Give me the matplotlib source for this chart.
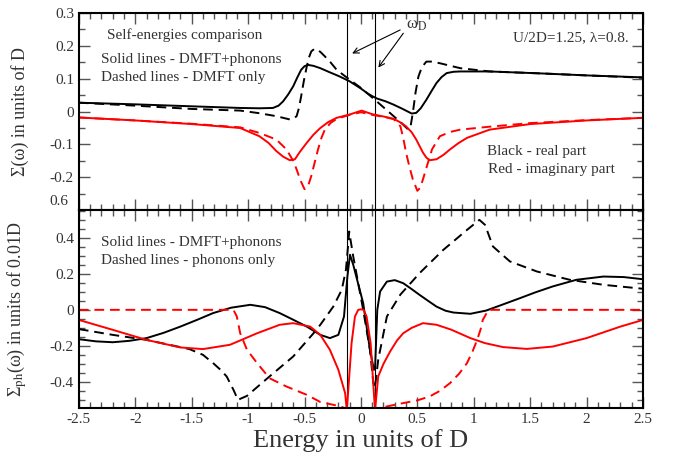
import numpy as np
import matplotlib
matplotlib.use("Agg")
import matplotlib.pyplot as plt
from matplotlib.ticker import MultipleLocator, FixedLocator, FixedFormatter

plt.rcParams['font.family'] = ['Liberation Serif', 'DejaVu Serif']
plt.rcParams['mathtext.fontset'] = 'stix'

# ---- top panel: self-energies in units of D ----
re_full_x = [-2.5, -2.0, -1.5, -1.07, -0.9, -0.78, -0.73, -0.69, -0.645, -0.6, -0.565, -0.53,
             -0.5, -0.47, -0.42, -0.36, -0.28, -0.19, -0.1, 0.0, 0.06, 0.1, 0.14, 0.22, 0.29,
             0.37, 0.45, 0.49, 0.53, 0.58, 0.625, 0.67, 0.715, 0.76, 0.82, 0.88, 1.14, 1.6,
             2.0, 2.5]
re_full_y = [0.027, 0.022, 0.016, 0.011, 0.010, 0.011, 0.018, 0.031, 0.052, 0.077, 0.103, 0.127,
             0.138, 0.142, 0.139, 0.132, 0.12, 0.107, 0.092, 0.07, 0.055, 0.047, 0.04, 0.031, 0.021,
             0.008, -0.006, -0.004, 0.01, 0.036, 0.062, 0.087, 0.105, 0.117, 0.121, 0.122, 0.122, 0.116,
             0.11, 0.104]

re_dmft_x = [-2.5, -2.0, -1.5, -1.07, -0.9, -0.75, -0.63, -0.6, -0.57, -0.55, -0.53, -0.505,
             -0.48, -0.46, -0.44, -0.415, -0.39, -0.355, -0.32, -0.27, -0.215, -0.1, 0.0, 0.14,
             0.29, 0.36, 0.42, 0.44, 0.46, 0.485, 0.51, 0.54, 0.58, 0.63, 0.70, 0.88, 1.14,
             1.6, 2.0, 2.5]
re_dmft_y = [0.027, 0.018, 0.008, 0.003, -0.005, -0.014, -0.024, -0.022, -0.014, 0.01, 0.046, 0.095,
             0.137, 0.165, 0.183, 0.19, 0.19, 0.18, 0.168, 0.15, 0.127, 0.097, 0.072, 0.031,
             -0.014, -0.035, -0.055, -0.045, -0.004, 0.06, 0.107, 0.135, 0.152, 0.152, 0.147, 0.132, 0.122,
             0.116, 0.11, 0.103]

im_full_x = [-2.5, -2.0, -1.5, -1.07, -0.9, -0.82, -0.75, -0.69, -0.63, -0.585, -0.54, -0.48,
             -0.42, -0.36, -0.29, -0.215, -0.1, 0.006, 0.1, 0.2, 0.29, 0.35, 0.40, 0.45, 0.49,
             0.52, 0.55, 0.58, 0.61, 0.67, 0.73, 0.79, 0.86, 0.94, 1.14, 1.5, 2.0, 2.5]
im_full_y = [-0.018, -0.027, -0.038, -0.05, -0.075, -0.095, -0.12, -0.137, -0.148, -0.145, -0.122, -0.095,
             -0.07, -0.05, -0.032, -0.019, -0.009, 0.003, -0.008, -0.015, -0.022, -0.033, -0.045, -0.063, -0.085,
             -0.105, -0.125, -0.14, -0.148, -0.145, -0.132, -0.115, -0.097, -0.08, -0.055, -0.038, -0.027, -0.019]

im_dmft_x = [-2.5, -2.0, -1.5, -1.07, -0.9, -0.75, -0.66, -0.6, -0.57, -0.535, -0.5, -0.47,
             -0.44, -0.41, -0.38, -0.35, -0.32, -0.27, -0.215, -0.1, 0.0, 0.1, 0.2, 0.29, 0.35,
             0.375, 0.40, 0.43, 0.46, 0.5, 0.525, 0.55, 0.59, 0.63, 0.70, 0.79, 0.88, 1.14,
             1.5, 2.0, 2.5]
im_dmft_y = [-0.018, -0.027, -0.037, -0.048, -0.065, -0.085, -0.115, -0.15, -0.176, -0.21, -0.236, -0.228,
             -0.196, -0.155, -0.115, -0.08, -0.055, -0.035, -0.022, -0.01, -0.002, -0.01, -0.016, -0.023, -0.045,
             -0.08, -0.125, -0.168, -0.206, -0.241, -0.232, -0.206, -0.16, -0.115, -0.075, -0.062, -0.055, -0.046,
             -0.035, -0.026, -0.019]

# ---- bottom panel: phonon self-energies in units of 0.01D ----
re_fph_x = [-2.5, -2.35, -2.2, -2.05, -1.9, -1.75, -1.6, -1.45, -1.31, -1.15, -0.98, -0.85,
            -0.72, -0.6, -0.48, -0.36, -0.275, -0.2, -0.15, -0.12, -0.097, -0.068, 0.02, 0.08,
            0.115, 0.125, 0.145, 0.17, 0.23, 0.30, 0.375, 0.45, 0.52, 0.6, 0.67, 0.75, 0.82,
            0.97, 1.11, 1.25, 1.41, 1.55, 1.70, 1.91, 2.15, 2.33, 2.5]
re_fph_y = [-0.163, -0.175, -0.18, -0.172, -0.157, -0.128, -0.093, -0.055, -0.018, 0.012, 0.028, 0.015,
            -0.018, -0.055, -0.093, -0.139, -0.157, -0.139, -0.037, 0.185, 0.306, 0.25, 0.037, -0.222,
            -0.333, -0.33, 0.0, 0.102, 0.157, 0.165, 0.148, 0.115, 0.083, 0.048, 0.018, -0.005, -0.015,
            -0.022, -0.004, 0.028, 0.065, 0.098, 0.13, 0.167, 0.185, 0.182, 0.17]

re_ph_x = [-2.5, -2.2, -1.9, -1.52, -1.4, -1.31, -1.25, -1.19, -1.13, -1.09, -1.01, -0.81,
           -0.6, -0.42, -0.36, -0.245, -0.17, -0.133, -0.112, -0.104, -0.068, 0.02, 0.08, 0.11,
           0.124, 0.153, 0.23, 0.35, 0.52, 0.73, 0.94, 1.05, 1.10, 1.17, 1.32, 1.56, 1.85,
           2.15, 2.5]
re_ph_y = [-0.107, -0.139, -0.167, -0.218, -0.25, -0.296, -0.33, -0.37, -0.444, -0.5, -0.478, -0.37,
           -0.259, -0.13, -0.083, 0.018, 0.111, 0.222, 0.37, 0.435, 0.296, 0.0, -0.222, -0.407,
           -0.435, -0.278, -0.037, 0.085, 0.204, 0.333, 0.444, 0.5, 0.472, 0.352, 0.269, 0.213, 0.167,
           0.139, 0.117]

im_fph_x = [-2.5, -2.2, -1.9, -1.6, -1.4, -1.16, -0.92, -0.72, -0.6, -0.45, -0.36, -0.275,
            -0.2, -0.14, -0.125, -0.083, -0.053, -0.024, 0.0, 0.024, 0.05, 0.086, 0.125, 0.153,
            0.2, 0.26, 0.32, 0.375, 0.45, 0.55, 0.67, 0.8, 0.97, 1.1, 1.26, 1.47, 1.70, 2.0,
            2.3, 2.5]
im_fph_y = [-0.056, -0.111, -0.167, -0.209, -0.218, -0.194, -0.13, -0.083, -0.074, -0.093, -0.139, -0.222,
            -0.333, -0.463, -0.56, -0.185, -0.037, 0.0, 0.003, 0.0, -0.037, -0.185, -0.56, -0.37,
            -0.3, -0.23, -0.17, -0.13, -0.1, -0.074, -0.083, -0.11, -0.157, -0.185, -0.207, -0.217, -0.204, -0.157,
            -0.093, -0.056]

im_ph_x = [-2.5, -1.13, -1.10, -1.07, -1.01, -0.92, -0.81, -0.66, -0.48, -0.36, -0.19, -0.125,
           0.0, 0.125, 0.375, 0.5, 0.61, 0.7, 0.79, 0.87, 0.94, 0.99, 1.03, 1.06, 1.08,
           1.13, 2.5]
im_ph_y = [0, 0, -0.037, -0.13, -0.222, -0.296, -0.38, -0.426, -0.472, -0.512, -0.535, -0.55,
           -0.58, -0.55, -0.518, -0.503, -0.481, -0.45, -0.407, -0.355, -0.296, -0.23, -0.167, -0.11, -0.056,
           0, 0]

omega_d = 0.125

x_ticks = [-2.5, -2, -1.5, -1, -0.5, 0, 0.5, 1, 1.5, 2, 2.5]
x_labels = ['-2.5', '-2', '-1.5', '-1', '-0.5', '0', '0.5', '1', '1.5', '2', '2.5']
top_yticks = [-0.2, -0.1, 0, 0.1, 0.2, 0.3]
top_ylabels = ['-0.2', '-0.1', '0', '0.1', '0.2', '0.3']
bot_yticks = [-0.4, -0.2, 0, 0.2, 0.4]
bot_ylabels = ['-0.4', '-0.2', '0', '0.2', '0.4']

txt = '#333333'
dash = (0, (5, 3))
lw = 1.4

fig = plt.figure(figsize=(6.74, 4.62), dpi=100)
ax1 = fig.add_axes([0.117, 0.545, 0.837, 0.427])
ax2 = fig.add_axes([0.117, 0.117, 0.837, 0.4286])


def style(ax):
    for s in ax.spines.values():
        s.set_linewidth(1.5)
    ax.xaxis.set_major_locator(FixedLocator(x_ticks))
    ax.xaxis.set_minor_locator(MultipleLocator(0.1))
    ax.yaxis.set_minor_locator(MultipleLocator(0.05))
    ax.tick_params(which='both', direction='in', top=True, right=True,
                   color='#555555', labelcolor=txt, labelsize=11)
    ax.tick_params(which='major', length=8, width=1)
    ax.tick_params(which='minor', length=4, width=1)
    ax.set_xlim(-2.5, 2.5)
    for v in (-omega_d, omega_d):
        ax.axvline(v, color='black', lw=0.8)


# top panel
style(ax1)
ax1.set_ylim(-0.3, 0.3)
ax1.yaxis.set_major_locator(FixedLocator(top_yticks))
ax1.yaxis.set_major_formatter(FixedFormatter(top_ylabels))
ax1.tick_params(labelbottom=False)
ax1.plot(re_full_x, re_full_y, color='black', lw=lw)
ax1.plot(re_dmft_x, re_dmft_y, color='black', lw=lw, ls=dash)
ax1.plot(im_full_x, im_full_y, color='red', lw=lw)
ax1.plot(im_dmft_x, im_dmft_y, color='red', lw=lw, ls=dash)
ax1.text(-0.018, -0.273, '0.6', transform=ax1.get_yaxis_transform(),
         ha='right', va='center', fontsize=11, color=txt)
ax1.set_ylabel('Σ(ω) in units of D', fontsize=13, color=txt)
ax1.yaxis.set_label_coords(-0.088, 0.5)

ax1.text(-2.25, 0.233, 'Self-energies comparison', fontsize=11, color=txt, va='center')
ax1.text(-2.30, 0.158, 'Solid lines - DMFT+phonons', fontsize=11, color=txt, va='center')
ax1.text(-2.30, 0.103, 'Dashed lines - DMFT only', fontsize=11, color=txt, va='center')
ax1.text(2.37, 0.224, 'U/2D=1.25, λ=0.8.', fontsize=11, color=txt, va='center', ha='right')
ax1.text(1.12, -0.121, 'Black - real part', fontsize=11, color=txt, va='center')
ax1.text(1.13, -0.176, 'Red - imaginary part', fontsize=11, color=txt, va='center')

ax1.text(0.40, 0.262, 'ω$_{\\rm D}$', fontsize=12, color=txt, va='center')
ax1.annotate('', xy=(-0.1, 0.173), xytext=(0.37, 0.252),
             arrowprops=dict(arrowstyle='->', color='black', lw=0.8))
ax1.annotate('', xy=(0.14, 0.127), xytext=(0.39, 0.245),
             arrowprops=dict(arrowstyle='->', color='black', lw=0.8))

# bottom panel
style(ax2)
ax2.set_ylim(-0.545, 0.555)
ax2.yaxis.set_major_locator(FixedLocator(bot_yticks))
ax2.yaxis.set_major_formatter(FixedFormatter(bot_ylabels))
ax2.xaxis.set_major_formatter(FixedFormatter(x_labels))
ax2.plot(re_fph_x, re_fph_y, color='black', lw=lw)
ax2.plot(re_ph_x, re_ph_y, color='black', lw=lw, ls=dash)
ax2.plot(im_fph_x, im_fph_y, color='red', lw=lw)
ax2.plot(im_ph_x, im_ph_y, color='red', lw=lw, ls=dash)
ax2.set_ylabel('Σ$_{\\rm ph}$(ω) in units of 0.01D', fontsize=13, color=txt)
ax2.yaxis.set_label_coords(-0.088, 0.5)
ax2.set_xlabel('Energy in units of D', fontsize=19, color=txt, labelpad=2)

ax2.text(-2.30, 0.372, 'Solid lines - DMFT+phonons', fontsize=11, color=txt, va='center')
ax2.text(-2.30, 0.272, 'Dashed lines - phonons only', fontsize=11, color=txt, va='center')

fig.savefig('out.png', dpi=100)
